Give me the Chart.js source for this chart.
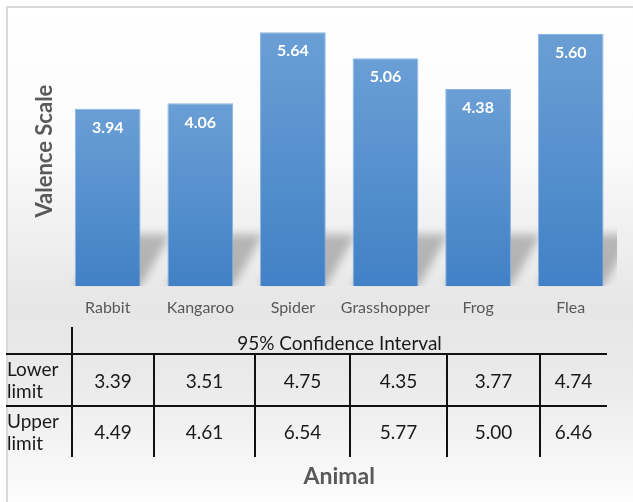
<!DOCTYPE html>
<html>
<head>
<meta charset="utf-8">
<script src="https://cdn.jsdelivr.net/npm/chart.js@4.4.1/dist/chart.umd.min.js"></script>
<style>
html,body{margin:0;padding:0;background:#fff;}
#wrap{position:relative;width:633px;height:502px;overflow:hidden;font-family:Lato,"Open Sans",sans-serif;}
#card{position:absolute;left:6px;top:6px;width:640px;height:510px;border-left:2px solid #dadada;border-top:2px solid #dadada;
background:linear-gradient(to bottom,#ffffff 0px,#fbfbfb 140px,#e6e6e6 300px,#ebebeb 380px,#fdfdfd 496px);}
#chart{position:absolute;left:0;top:0;}
.ln{position:absolute;background:#111;}
.cell{position:absolute;display:flex;align-items:center;justify-content:center;font-size:19px;color:#1a1a1a;}
.rowlab{justify-content:flex-start;text-align:left;line-height:22px;}
</style>
</head>
<body>
<div id="wrap">
<div id="card"></div>
<canvas id="chart" width="633" height="502"></canvas>
<div id="table"></div>
</div>
<script>

let animals = ["Rabbit","Kangaroo","Spider","Grasshopper","Frog","Flea"];
let valence = [3.94,4.06,5.64,5.06,4.38,5.60];
let lowerLimit = [3.39,3.51,4.75,4.35,3.77,4.74];
let upperLimit = [4.49,4.61,6.54,5.77,5.00,6.46];
let rowNames = ["Lower<br>limit","Upper<br>limit"];
let tableTitle = "95% Confidence Interval";

/* -------- table under the chart -------- */

let colEdges = [6,72,154,255,350,447,540,607];
let rowEdges = [327,354,406,457];

let table = document.getElementById("table");
let html = "";

function line(x,y,w,h){
return `<div class="ln" style="left:${x}px;top:${y}px;width:${w}px;height:${h}px"></div>`;
}

html += line(6,rowEdges[1]-1,colEdges[7]-6,2);
html += line(6,rowEdges[2]-1,colEdges[7]-6,2);
html += line(colEdges[1]-1,rowEdges[0],2,rowEdges[3]-rowEdges[0]);
for(let i=2;i<colEdges.length-1;i++){
html += line(colEdges[i]-1,rowEdges[1],2,rowEdges[3]-rowEdges[1]);
}

html += `<div class="cell" style="left:${colEdges[1]}px;top:${rowEdges[0]+2}px;width:${colEdges[7]-colEdges[1]}px;height:${rowEdges[1]-rowEdges[0]}px">${tableTitle}</div>`;

[lowerLimit,upperLimit].forEach((vals,r)=>{
let top = rowEdges[r+1];
let h = rowEdges[r+2]-top;
html += `<div class="cell rowlab" style="left:7px;top:${top}px;width:64px;height:${h}px">${rowNames[r]}</div>`;
vals.forEach((v,c)=>{
html += `<div class="cell" style="left:${colEdges[c+1]}px;top:${top}px;width:${colEdges[c+2]-colEdges[c+1]}px;height:${h}px">${v.toFixed(2)}</div>`;
});
});

table.innerHTML = html;

/* -------- chart -------- */

function barFill(ctx){
let chart = ctx.chart;
let area = chart.chartArea;
if(!area || ctx.type!=="data") return "#5690cf";
let y = chart.scales.y;
let top = y.getPixelForValue(ctx.parsed.y);
let bottom = y.getPixelForValue(0);
let g = chart.ctx.createLinearGradient(0,top,0,bottom);
g.addColorStop(0,"#6a9fd5");
g.addColorStop(1,"#4281c6");
return g;
}

let barShadow = {
id:"barShadow",
beforeDatasetsDraw(chart){
let ctx = chart.ctx;
let area = chart.chartArea;
ctx.save();
ctx.beginPath();
ctx.rect(area.left,area.top,area.right-area.left,area.bottom-area.top);
ctx.clip();
ctx.filter = "blur(4px)";
ctx.fillStyle = "rgba(0,0,0,0.24)";
chart.getDatasetMeta(0).data.forEach(bar=>{
let left = bar.x-bar.width/2;
let right = bar.x+bar.width/2;
let base = bar.base;
ctx.beginPath();
ctx.moveTo(left,base);
ctx.lineTo(right,base);
ctx.lineTo(right+30,base-52);
ctx.lineTo(left+30,base-52);
ctx.closePath();
ctx.fill();
});
ctx.restore();
}
};

let barLabels = {
id:"barLabels",
afterDatasetsDraw(chart){
let ctx = chart.ctx;
ctx.save();
ctx.fillStyle = "#ffffff";
ctx.font = "bold 16px Lato";
ctx.textAlign = "center";
ctx.textBaseline = "middle";
chart.getDatasetMeta(0).data.forEach((bar,i)=>{
ctx.fillText(valence[i].toFixed(2),bar.x,bar.y+19);
});
ctx.restore();
}
};

new Chart(document.getElementById("chart"),{

type:"bar",

data:{
labels:animals,
datasets:[{
data:valence,
backgroundColor:barFill,
borderColor:"rgba(125,172,225,0.9)",
borderWidth:1,
barPercentage:0.71,
categoryPercentage:1
}]
},

options:{
responsive:false,
animation:false,
layout:{padding:{left:20,right:16,top:16,bottom:10}},
plugins:{
legend:{display:false},
tooltip:{enabled:false}
},
scales:{
x:{
grid:{display:false},
border:{display:false},
ticks:{color:"#595959",font:{family:"Lato",size:16},padding:4,maxRotation:0,minRotation:0,autoSkip:false},
title:{display:true,text:"Animal",color:"#595959",font:{family:"Lato",size:23,weight:"bold"},padding:{top:141,bottom:2}}
},
y:{
min:0,
max:6,
grid:{display:false},
border:{display:false},
ticks:{display:false},
title:{display:true,text:"Valence Scale",color:"#595959",font:{family:"Lato",size:22,weight:"bold"},padding:{top:12,bottom:-5}}
}
}
},

plugins:[barShadow,barLabels]

});

</script>
</body>
</html>
